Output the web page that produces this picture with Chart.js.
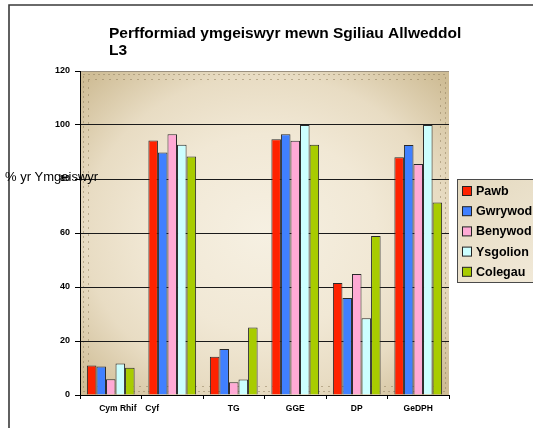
<!DOCTYPE html>
<html>
<head>
<meta charset="utf-8">
<script src="https://cdn.jsdelivr.net/npm/chart.js@4"></script>
<style>
  body { margin: 0; background: #fff; }
  #wrap { width: 533px; height: 428px; }
</style>
</head>
<body>
<div id="wrap"><canvas id="skillsChart" width="533" height="428"></canvas></div>
<script>
// chart data
const categories = ['Cym Rhif', 'Cyf', 'TG', 'GGE', 'DP', 'GeDPH'];
const seriesNames = ['Pawb', 'Gwrywod', 'Benywod', 'Ysgolion', 'Colegau'];
const pawb = [10.9, 94.3, 14.2, 94.7, 41.5, 88.1];
const gwrywod = [10.6, 89.8, 17.0, 96.6, 35.9, 92.6];
const benywod = [5.8, 96.6, 4.7, 94.2, 44.8, 85.6];
const ysgolion = [11.7, 92.7, 5.7, 100, 28.4, 100];
const colegau = [10.1, 88.3, 25.0, 92.7, 58.9, 71.3];
const yTicks = [0, 20, 40, 60, 80, 100, 120];
const titleLines = ['Perfformiad ymgeiswyr mewn Sgiliau Allweddol', 'L3'];
const yTitle = '% yr Ymgeiswyr';

const colours = ['#ff2200', '#4080ff', '#ffaad5', '#ccffff', '#a8cc00'];
const FONT = "'Liberation Sans', Arial, sans-serif";

// the original's first two category labels sit off-centre, nudge them with spaces
function nudgeLabel(label, i) {
    if (i === 0) return '      ' + label;
    if (i === 1) return label + '                 ';
    return label;
}

const plotBackground = {
    id: 'plotBackground',
    beforeDraw(chart) {
        const { ctx, chartArea: a } = chart;
        const w = a.right - a.left, h = a.bottom - a.top;
        ctx.save();
        // outer frame of the chart object
        ctx.strokeStyle = '#3a3a3a';
        ctx.lineWidth = 1.6;
        ctx.beginPath();
        ctx.moveTo(9, 428);
        ctx.lineTo(9, 5);
        ctx.lineTo(533, 5);
        ctx.stroke();

        ctx.beginPath();
        ctx.rect(a.left, a.top, w, h);
        ctx.clip();
        ctx.translate(a.left + w / 2, a.top + h / 2);
        ctx.scale(w / 2, h / 2);
        const g = ctx.createRadialGradient(0, 0, 0, 0, 0, 1.35);
        g.addColorStop(0, '#f6f0e2');
        g.addColorStop(0.45, '#f1e8d5');
        g.addColorStop(0.72, '#e8dcc3');
        g.addColorStop(1, '#cfbd96');
        ctx.fillStyle = g;
        ctx.fillRect(-1, -1, 2, 2);
        ctx.restore();

        // dotted texture near the frame
        ctx.save();
        ctx.strokeStyle = '#8c7b58';
        ctx.lineWidth = 1;
        ctx.setLineDash([1, 4]);
        ctx.strokeRect(a.left + 3.5, a.top + 3.5, w - 7, h - 7);
        ctx.setLineDash([1, 6]);
        ctx.strokeRect(a.left + 8.5, a.top + 8.5, w - 17, h - 17);
        ctx.restore();
    }
};

const textLayer = {
    id: 'textLayer',
    afterDraw(chart) {
        const { ctx } = chart;
        ctx.save();
        ctx.fillStyle = '#000';
        ctx.textAlign = 'left';
        ctx.textBaseline = 'alphabetic';
        ctx.font = 'bold 15.5px ' + FONT;
        titleLines.forEach((t, i) => ctx.fillText(t, 109, 38 + i * 16.5));

        ctx.font = '13px ' + FONT;
        ctx.textBaseline = 'middle';
        ctx.fillText(yTitle, 5, 177);

        // legend box
        const lx = 457.5, ly = 179.5;
        const lg = ctx.createLinearGradient(lx, ly, lx + 76, ly + 103);
        lg.addColorStop(0, '#e4d9bf');
        lg.addColorStop(1, '#f1e9d8');
        ctx.fillStyle = lg;
        ctx.fillRect(lx, ly, 90, 103);
        ctx.strokeStyle = '#4a4a4a';
        ctx.lineWidth = 1;
        ctx.strokeRect(lx, ly, 90, 103);

        ctx.font = 'bold 12.5px ' + FONT;
        seriesNames.forEach((name, i) => {
            const cy = 191 + i * 20.2;
            ctx.fillStyle = colours[i];
            ctx.fillRect(462.5, cy - 4.5, 9, 9);
            ctx.strokeStyle = '#222';
            ctx.strokeRect(462.5, cy - 4.5, 9, 9);
            ctx.fillStyle = '#000';
            ctx.fillText(name, 476, cy + 0.5);
        });
        ctx.restore();
    }
};

const seriesData = [pawb, gwrywod, benywod, ysgolion, colegau];

const chart = new Chart(document.getElementById('skillsChart').getContext('2d'), {
    type: 'bar',
    data: {
        labels: categories,
        datasets: seriesNames.map((name, i) => ({
            label: name,
            data: seriesData[i],
            backgroundColor: colours[i],
            borderColor: '#2a2a2a',
            borderWidth: 1,
            barPercentage: 1.0,
            categoryPercentage: 0.776
        }))
    },
    options: {
        responsive: false,
        animation: false,
        layout: { padding: { top: 71, right: 84, bottom: 0, left: 0 } },
        plugins: {
            legend: { display: false },
            title: { display: false },
            tooltip: { enabled: false }
        },
        scales: {
            x: {
                afterFit(scale) { scale.height = 33; },
                grid: { drawOnChartArea: false, tickLength: 4, color: '#000' },
                border: { color: '#000', width: 1 },
                ticks: {
                    font: { family: FONT, size: 8.5, weight: 'bold' },
                    color: '#000',
                    padding: 5,
                    maxRotation: 0,
                    autoSkip: false,
                    callback(value, i) { return nudgeLabel(categories[i], i); }
                }
            },
            y: {
                min: 0,
                max: 120,
                afterFit(scale) { scale.width = 80; },
                afterBuildTicks(scale) { scale.ticks = yTicks.map(v => ({ value: v })); },
                grid: {
                    tickLength: 5,
                    color: ctx => ctx.tick && ctx.tick.value === 120 ? '#9a9080' : '#1a1a1a',
                    tickColor: '#000'
                },
                border: { color: '#000', width: 1 },
                ticks: {
                    font: { family: FONT, size: 9, weight: 'bold' },
                    color: '#000',
                    padding: 5
                }
            }
        }
    },
    plugins: [plotBackground, textLayer]
});
</script>
</body>
</html>
